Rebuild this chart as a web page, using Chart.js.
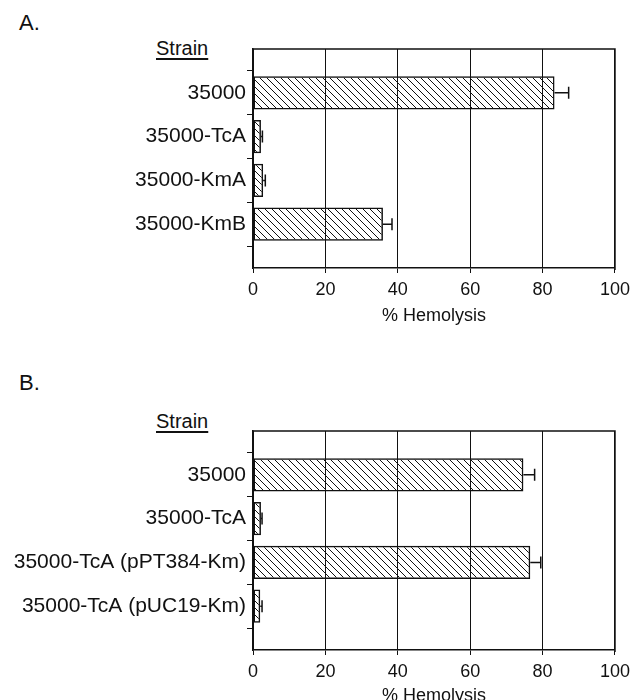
<!DOCTYPE html>
<html>
<head>
<meta charset="utf-8">
<script src="https://cdn.jsdelivr.net/npm/chart.js@4"></script>
<style>
    html, body { margin: 0; padding: 0; background: #fff; overflow: hidden; }
    body { width: 636px; height: 700px; position: relative; font-family: "Liberation Sans", Arial, sans-serif; color: #111; }
    .panel { position: absolute; left: 0; width: 636px; }
    .letter { position: absolute; left: 19px; font-size: 22px; line-height: 22px; }
    .strain { position: absolute; left: 156px; font-size: 20px; line-height: 20px; text-decoration: underline; text-underline-offset: 3px; }
</style>
</head>
<body>
<div class="letter" style="top: 12px;">A.</div>
<div class="strain" style="top: 38px;">Strain</div>
<div class="panel" style="top: 0; height: 330px;"><canvas id="chartA"></canvas></div>

<div class="letter" style="top: 372px;">B.</div>
<div class="strain" style="top: 411px;">Strain</div>
<div class="panel" style="top: 360px; height: 350px;"><canvas id="chartB"></canvas></div>

<script>
// Panel A
const strainsA = ['35000', '35000-TcA', '35000-KmA', '35000-KmB'];
const hemolysisA = [83.3, 2.2, 2.8, 35.9];
const errorA = [3.9, 0.4, 0.6, 2.5];

// Panel B
const strainsB = ['35000', '35000-TcA', '35000-TcA (pPT384-Km)', '35000-TcA (pUC19-Km)'];
const hemolysisB = [74.7, 2.2, 76.6, 2.0];
const errorB = [3.1, 0.3, 2.9, 0.5];

const xTicks = [0, 20, 40, 60, 80, 100];

function hatch() {
    const c = document.createElement('canvas');
    c.width = 7; c.height = 7;
    const g = c.getContext('2d');
    g.strokeStyle = '#111';
    g.lineWidth = 1;
    g.beginPath();
    g.moveTo(-1, -1); g.lineTo(8, 8);
    g.moveTo(-1, 6); g.lineTo(1, 8);
    g.moveTo(6, -1); g.lineTo(8, 1);
    g.stroke();
    return g.createPattern(c, 'repeat');
}

// draw the + side error bar with a cap
const errorBars = {
    id: 'errorBars',
    afterDatasetsDraw(chart, args, opts) {
        const ctx = chart.ctx;
        const xs = chart.scales.x, ys = chart.scales.y;
        const vals = chart.data.datasets[0].data;
        ctx.save();
        ctx.strokeStyle = '#111';
        ctx.lineWidth = 1.5;
        vals.forEach((v, i) => {
            if (v == null) return;
            const e = opts.errors[i - 1];
            const x0 = xs.getPixelForValue(v);
            const x1 = xs.getPixelForValue(v + e);
            const y = ys.getPixelForValue(i);
            ctx.beginPath();
            ctx.moveTo(x0, y); ctx.lineTo(x1, y);
            ctx.moveTo(x1, y - 6); ctx.lineTo(x1, y + 6);
            ctx.stroke();
        });
        ctx.restore();
    }
};

// top and right edge of the plot box
const frame = {
    id: 'frame',
    beforeDatasetsDraw(chart) {
        const { ctx, chartArea: a } = chart;
        ctx.save();
        ctx.strokeStyle = '#111';
        ctx.lineWidth = 1.5;
        ctx.beginPath();
        ctx.moveTo(a.left, a.top);
        ctx.lineTo(a.right, a.top);
        ctx.lineTo(a.right, a.bottom + 2);
        ctx.stroke();
        ctx.restore();
    }
};

function makeChart(id, strains, values, errors, opt) {
    const canvas = document.getElementById(id);
    return new Chart(canvas, {
        type: 'bar',
        data: {
            labels: [''].concat(strains, ['']),
            datasets: [{
                data: [null].concat(values, [null]),
                backgroundColor: hatch(),
                borderColor: '#111',
                borderWidth: 1.5,
                borderSkipped: false,
                categoryPercentage: 1,
                barPercentage: 0.76
            }]
        },
        options: {
            indexAxis: 'y',
            responsive: true,
            maintainAspectRatio: false,
            animation: false,
            layout: { padding: { top: opt.top, right: 17, left: 0, bottom: 0 } },
            scales: {
                x: {
                    min: 0,
                    max: 100,
                    afterBuildTicks: s => { s.ticks = xTicks.map(v => ({ value: v })); },
                    afterFit: s => { s.height = opt.xHeight; },
                    grid: { color: '#111', lineWidth: 1, tickColor: '#111', tickLength: 5 },
                    border: { color: '#111', width: 1.5 },
                    ticks: { color: '#111', padding: 6, font: { family: 'Liberation Sans', size: 18 } },
                    title: {
                        display: true,
                        text: '% Hemolysis',
                        color: '#111',
                        padding: { top: 0, bottom: 3 },
                        font: { family: 'Liberation Sans', size: 18 }
                    }
                },
                y: {
                    offset: false,
                    afterFit: s => { s.width = 253; },
                    grid: {
                        color: 'rgba(0,0,0,0)',
                        tickColor: c => c.index === 0 ? 'rgba(0,0,0,0)' : '#111',
                        tickLength: 6
                    },
                    border: { color: '#111', width: 1.5 },
                    ticks: { color: '#111', padding: 1, autoSkip: false, font: { family: 'Liberation Sans', size: 21 } }
                }
            },
            plugins: {
                legend: { display: false },
                tooltip: { enabled: false },
                errorBars: { errors: errors }
            }
        },
        plugins: [frame, errorBars]
    });
}

makeChart('chartA', strainsA, hemolysisA, errorA, { top: 49, xHeight: 62 });
makeChart('chartB', strainsB, hemolysisB, errorB, { top: 71, xHeight: 60 });
</script>
</body>
</html>
